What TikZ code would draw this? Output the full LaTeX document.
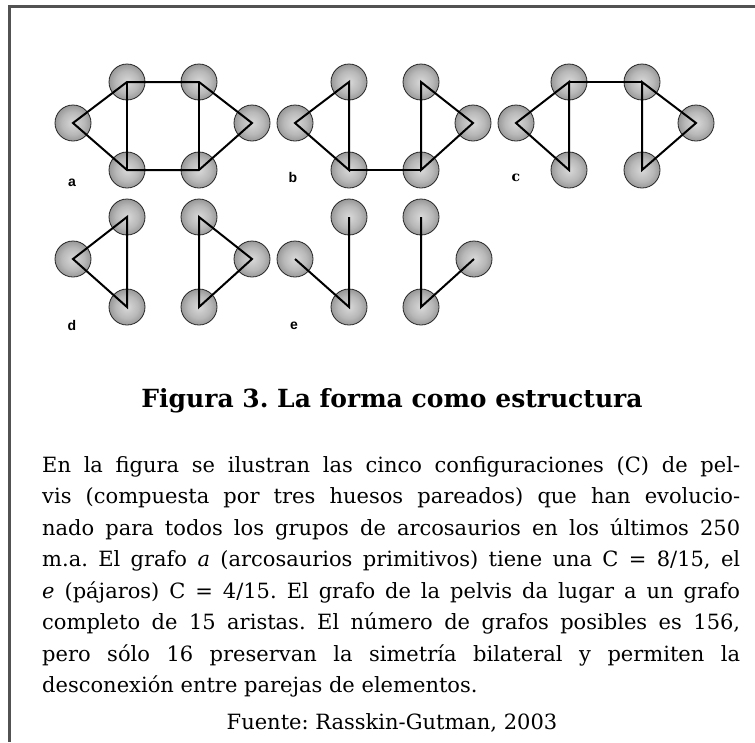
\documentclass[tikz,border=0pt]{standalone}
\usepackage{fontspec}
\setmainfont{DejaVu Serif}
\newfontfamily\lblfont{Liberation Sans}
\frenchspacing
\pgfdeclareradialshading{spherebone}{\pgfpoint{0bp}{0bp}}{color(0bp)=(black!15); color(16bp)=(black!28); color(38bp)=(black!58); color(50bp)=(black!78)}
\begin{document}
\begin{tikzpicture}[x=1pt,y=-1pt,
  ball/.style={circle, minimum size=36pt, inner sep=0pt, draw=black!85, line width=0.8pt, shading=spherebone},
  edge/.style={line width=2pt, black, line join=miter},
  lbl/.style={font=\fontsize{14}{16}\lblfont\bfseries, inner sep=0pt},
  lblc/.style={font=\fontsize{14}{16}\bfseries, inner sep=0pt},
  txt/.style={anchor=base west, inner sep=0pt, font=\fontsize{21}{25}\selectfont},
  ctr/.style={anchor=base, inner sep=0pt, font=\fontsize{21}{25}\selectfont},
  frame/.style={line width=3pt, draw=black!68}
]
\useasboundingbox (0,0) rectangle (755,742);
\coordinate (ftl) at (9,6);
\coordinate (ftr) at (755,6);
\coordinate (fbl) at (9,742);
\draw[frame] (ftr) -- (ftl) -- (fbl);

% group a
\node[ball] (a1) at (73,123) {};
\node[ball] (a2) at (127,82) {};
\node[ball] (a3) at (127,170) {};
\node[ball] (a4) at (199,82) {};
\node[ball] (a5) at (199,170) {};
\node[ball] (a6) at (252,123) {};
\draw[edge] (a2.center) -- (a1.center) -- (a3.center) -- (a5.center) -- (a6.center) -- (a4.center) -- cycle;
\draw[edge] (a2.center) -- (a3.center);
\draw[edge] (a4.center) -- (a5.center);
\node[lbl] (la) at (72,183) {a};

% group b
\node[ball] (b1) at (295,123) {};
\node[ball] (b2) at (349,82) {};
\node[ball] (b3) at (349,170) {};
\node[ball] (b4) at (421,82) {};
\node[ball] (b5) at (421,170) {};
\node[ball] (b6) at (473,123) {};
\draw[edge] (b2.center) -- (b1.center) -- (b3.center) -- cycle;
\draw[edge] (b3.center) -- (b5.center);
\draw[edge] (b4.center) -- (b6.center) -- (b5.center) -- cycle;
\node[lbl] (lb) at (293,177) {b};

% group c
\node[ball] (c1) at (516,123) {};
\node[ball] (c2) at (569,82) {};
\node[ball] (c3) at (569,170) {};
\node[ball] (c4) at (642,82) {};
\node[ball] (c5) at (642,170) {};
\node[ball] (c6) at (696,123) {};
\draw[edge] (c2.center) -- (c1.center) -- (c3.center) -- cycle;
\draw[edge] (c2.center) -- (c4.center);
\draw[edge] (c4.center) -- (c6.center) -- (c5.center) -- cycle;
\node[lblc] (lc) at (516,178) {c};

% group d
\node[ball] (d1) at (73,259) {};
\node[ball] (d2) at (127,217) {};
\node[ball] (d3) at (127,307) {};
\node[ball] (d4) at (199,217) {};
\node[ball] (d5) at (199,307) {};
\node[ball] (d6) at (252,259) {};
\draw[edge] (d2.center) -- (d1.center) -- (d3.center) -- cycle;
\draw[edge] (d4.center) -- (d6.center) -- (d5.center) -- cycle;
\node[lbl] (ld) at (72,325) {d};

% group e
\node[ball] (e1) at (295,259) {};
\node[ball] (e2) at (349,217) {};
\node[ball] (e3) at (349,307) {};
\node[ball] (e4) at (421,217) {};
\node[ball] (e5) at (421,307) {};
\node[ball] (e6) at (474,259) {};
\draw[edge] (e1.center) -- (e3.center) -- (e2.center);
\draw[edge] (e4.center) -- (e5.center) -- (e6.center);
\node[lbl] (le) at (294,326) {e};

% caption
\node[ctr, font=\fontsize{25}{29}\bfseries] (title) at (392,407) {Figura 3. La forma como estructura};
\node[txt] (t1) at (42,472) {\makebox[698pt][s]{En la figura se ilustran las cinco configuraciones (C) de pel-}};
\node[txt] (t2) at (42,503.5) {\makebox[698pt][s]{vis (compuesta por tres huesos pareados) que han evolucio-}};
\node[txt] (t3) at (42,535) {\makebox[698pt][s]{nado para todos los grupos de arcosaurios en los últimos 250}};
\node[txt] (t4) at (42,566.5) {\makebox[698pt][s]{m.a. El grafo \textit{a} (arcosaurios primitivos) tiene una C = 8/15, el}};
\node[txt] (t5) at (42,598) {\makebox[698pt][s]{\textit{e} (pájaros) C = 4/15. El grafo de la pelvis da lugar a un grafo}};
\node[txt] (t6) at (42,629.5) {\makebox[698pt][s]{completo de 15 aristas. El número de grafos posibles es 156,}};
\node[txt] (t7) at (42,661) {\makebox[698pt][s]{pero sólo 16 preservan la simetría bilateral y permiten la}};
\node[txt] (t8) at (42,692.5) {desconexión entre parejas de elementos.};
\node[ctr] (src) at (392,729) {Fuente: Rasskin-Gutman, 2003};
\end{tikzpicture}
\end{document}
